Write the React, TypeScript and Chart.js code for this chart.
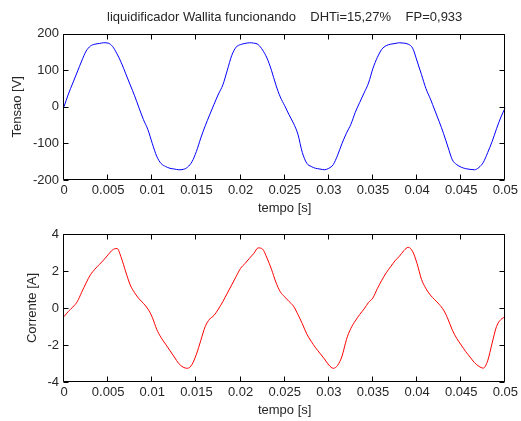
import React, { useEffect, useRef } from "react";
import { Chart, registerables } from "chart.js";

Chart.register(...registerables);

const TITLE = "liquidificador Wallita funcionando    DHTi=15,27%    FP=0,933";
const X_LABEL = "tempo [s]";
const Y_LABEL_TOP = "Tensao [V]";
const Y_LABEL_BOTTOM = "Corrente [A]";

// sample interval (s)
const DT = 0.0005;

// voltage samples, t = 0 .. 0.05 s
const tensao = [
  0, 35, 65, 95, 125, 152, 166, 171, 173, 175,
  174, 165, 145, 120, 90, 60, 30, -3, -35, -62,
  -100, -135, -155, -163, -168, -170, -172, -171, -165, -150,
  -122, -85, -52, -22, 7, 35, 60, 100, 140, 163,
  170, 173, 175, 174, 170, 155, 133, 100, 60, 27,
  3, -22, -45, -75, -125, -154, -163, -168, -170, -172,
  -168, -158, -132, -100, -72, -48, -15, 12, 38, 65,
  105, 135, 157, 167, 171, 173, 175, 174, 171, 160,
  125, 88, 50, 22, -9, -40, -73, -110, -145, -158,
  -165, -169, -171, -172, -166, -152, -125, -95, -60, -28,
  -2,
];

// current samples, t = 0 .. 0.05 s
const corrente = [
  -0.47, -0.18, 0.05, 0.34, 0.85, 1.35, 1.8, 2.1, 2.35, 2.6,
  2.88, 3.14, 3.22, 2.7, 1.95, 1.25, 0.82, 0.5, 0.25, -0.05,
  -0.5, -1.15, -1.6, -1.95, -2.3, -2.65, -3.0, -3.2, -3.26, -3.05,
  -2.5, -1.75, -1.0, -0.6, -0.4, -0.05, 0.35, 0.8, 1.25, 1.7,
  2.14, 2.4, 2.68, 2.95, 3.25, 3.18, 2.7, 2.1, 1.4, 0.88,
  0.6, 0.35, 0.1, -0.35, -0.85, -1.4, -1.8, -2.15, -2.45, -2.75,
  -3.08, -3.26, -3.1, -2.6, -1.7, -1.1, -0.7, -0.35, -0.05, 0.3,
  0.55, 1.05, 1.5, 1.9, 2.23, 2.55, 2.8, 3.1, 3.28, 3.05,
  2.4, 1.55, 1.05, 0.7, 0.45, 0.2, -0.11, -0.6, -1.2, -1.65,
  -2.0, -2.35, -2.65, -2.95, -3.15, -3.25, -2.85, -1.9, -1.0, -0.62,
  -0.47,
];

const X_MIN = 0;
const X_MAX = 0.05;
const X_STEP = 0.005;
const V_TICKS = [-200, 200, 100];
const I_TICKS = [-4, 4, 2];

const FONT_FAMILY = "'Liberation Sans', Arial, Helvetica, sans-serif";
const TEXT_COLOR = "#262626";

const fmt = (v: number) => String(Number(Number(v).toFixed(4)));

const boxPlugin = {
  id: "matlabBox",
  afterDatasetsDraw(chart: any) {
    const { ctx, chartArea } = chart;
    const { left, right, top, bottom } = chartArea;
    const xs = chart.scales.x;
    const ys = chart.scales.y;
    const L = Math.round(left) - 0.5;
    const R = Math.round(right) - 0.5;
    const T = Math.round(top) + 0.5;
    const B = Math.round(bottom) - 0.5;
    ctx.save();
    ctx.strokeStyle = "#000";
    ctx.lineWidth = 1;
    ctx.beginPath();
    ctx.rect(L, T, R - L, B - T);
    const tl = 5;
    xs.ticks.forEach((t: any) => {
      const px = Math.round(xs.getPixelForValue(t.value)) - 0.5;
      ctx.moveTo(px, B);
      ctx.lineTo(px, B - tl);
      ctx.moveTo(px, T);
      ctx.lineTo(px, T + tl);
    });
    ys.ticks.forEach((t: any) => {
      const py = Math.round(ys.getPixelForValue(t.value)) + 0.5;
      ctx.moveTo(L, py);
      ctx.lineTo(L + tl, py);
      ctx.moveTo(R, py);
      ctx.lineTo(R - tl, py);
    });
    ctx.stroke();
    ctx.restore();
  },
};

type PlotProps = {
  top: number;
  height: number;
  values: number[];
  color: string;
  yTicks: number[];
  yTitle: string;
  title?: string;
  padLeft: number;
  yWidth: number;
  padTop: number;
};

function Plot(p: PlotProps) {
  const ref = useRef<HTMLCanvasElement | null>(null);
  useEffect(() => {
    if (!ref.current) return;
    const data = p.values.map((v, i) => ({ x: i * DT, y: v }));
    const font = { family: FONT_FAMILY, size: 13 };
    const chart = new Chart(ref.current, {
      type: "line",
      data: {
        datasets: [
          {
            data,
            borderColor: p.color,
            borderWidth: 1,
            pointRadius: 0,
            cubicInterpolationMode: "monotone",
            fill: false,
          },
        ],
      },
      options: {
        animation: false,
        responsive: false,
        devicePixelRatio: 1,
        events: [],
        layout: { padding: { left: p.padLeft, right: 15, top: p.padTop, bottom: 0 } },
        plugins: {
          legend: { display: false },
          tooltip: { enabled: false },
          title: p.title
            ? {
                display: true,
                text: p.title,
                fullSize: false,
                color: TEXT_COLOR,
                font: { ...font, weight: "normal" },
                padding: { top: 10, bottom: 8 },
              }
            : { display: false },
        },
        scales: {
          x: {
            type: "linear",
            min: X_MIN,
            max: X_MAX,
            grid: { display: false, drawTicks: false },
            border: { display: false },
            ticks: {
              stepSize: X_STEP,
              color: TEXT_COLOR,
              font,
              padding: 3,
              maxRotation: 0,
              autoSkip: false,
              callback: (v: any) => fmt(v),
            },
            title: {
              display: true,
              text: X_LABEL,
              color: TEXT_COLOR,
              font,
              padding: { top: 0, bottom: 3 },
            },
            afterFit: (s: any) => {
              s.height = 39;
            },
          },
          y: {
            type: "linear",
            min: p.yTicks[0],
            max: p.yTicks[1],
            grid: { display: false, drawTicks: false },
            border: { display: false },
            ticks: {
              stepSize: p.yTicks[2],
              color: TEXT_COLOR,
              font,
              padding: 5,
              callback: (v: any) => fmt(v),
            },
            title: {
              display: true,
              text: p.yTitle,
              color: TEXT_COLOR,
              font,
              padding: { top: 10, bottom: 0 },
            },
            afterFit: (s: any) => {
              s.width = p.yWidth;
            },
          },
        },
      },
      plugins: [boxPlugin],
    } as any);
    return () => chart.destroy();
  }, []);
  return (
    <canvas
      ref={ref}
      width={521}
      height={p.height}
      style={{ position: "absolute", left: 0, top: p.top, width: 521, height: p.height }}
    />
  );
}

export default function App() {
  return (
    <div style={{ position: "absolute", left: 0, top: 0, width: 521, height: 421, background: "#fff" }}>
      <Plot
        top={0}
        height={219}
        values={tensao}
        color="#0000ff"
        yTicks={V_TICKS}
        yTitle={Y_LABEL_TOP}
        title={TITLE}
        padLeft={0}
        yWidth={64}
        padTop={0}
      />
      <Plot
        top={219}
        height={202}
        values={corrente}
        color="#ff0000"
        yTicks={I_TICKS}
        yTitle={Y_LABEL_BOTTOM}
        padLeft={15}
        yWidth={49}
        padTop={15}
      />
    </div>
  );
}
